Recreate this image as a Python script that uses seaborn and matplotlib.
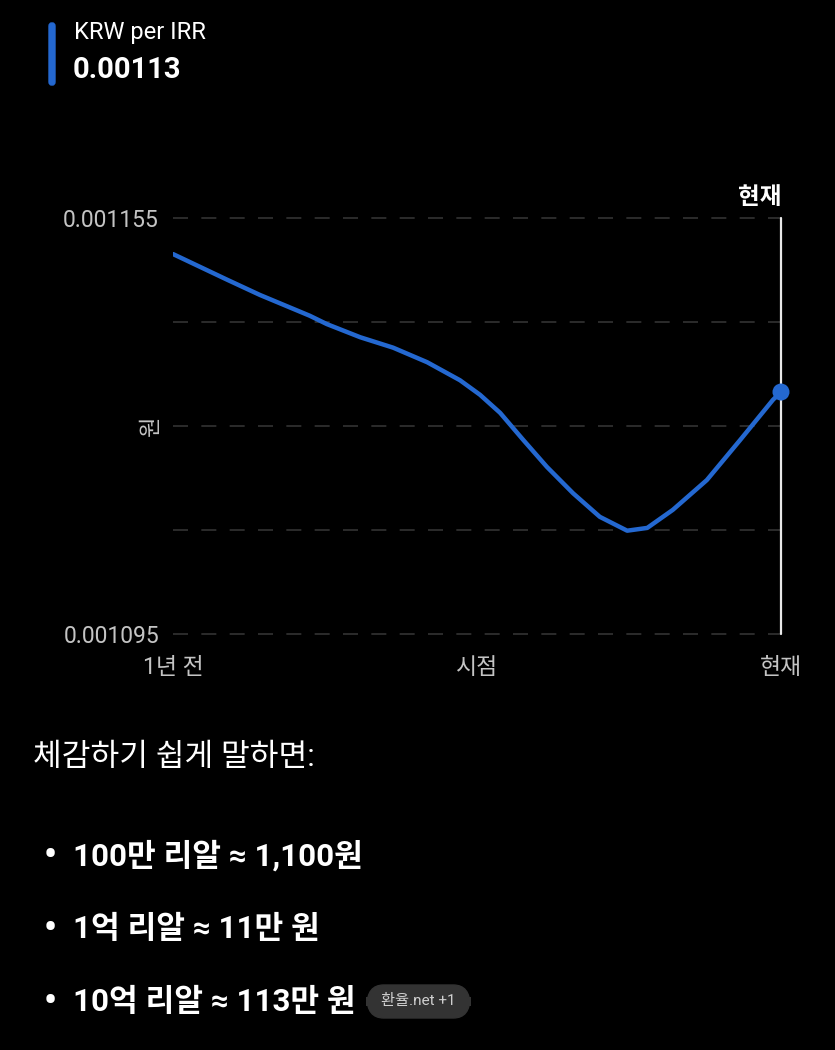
import numpy as np
import pandas as pd
import seaborn as sns
import matplotlib.pyplot as plt
from matplotlib.patches import FancyBboxPatch

# data (t: 0 = 1 year ago, 1 = now)
t_pos = [0.0, 0.089, 0.143, 0.225, 0.253, 0.308, 0.362, 0.418, 0.472, 0.505, 0.538,
         0.576, 0.615, 0.658, 0.702, 0.747, 0.780, 0.822, 0.878, 0.933, 0.987, 1.0]
krw_per_irr = [0.0011498, 0.0011461, 0.0011439, 0.0011409, 0.0011397, 0.0011378, 0.0011363,
               0.0011342, 0.0011316, 0.0011295, 0.0011269, 0.0011230, 0.0011191, 0.0011153,
               0.0011119, 0.0011099, 0.0011103, 0.0011129, 0.0011172, 0.0011230, 0.0011288,
               0.0011299]
x_ticks = [0.0, 0.5, 1.0]
x_labels = ['1년 전', '시점', '현재']
y_grid = [0.001095, 0.00111, 0.001125, 0.00114, 0.001155]
y_labels = ['0.001095', '', '', '', '0.001155']
bullets = ['100만 리알 ≈ 1,100원', '1억 리알 ≈ 11만 원', '10억 리알 ≈ 113만 원']

BLUE = '#2468d0'
GREY = '#c4c4c4'
sns.set_theme(style='dark', rc={'axes.facecolor': 'black', 'figure.facecolor': 'black'})
plt.rcParams['font.family'] = ['Roboto', 'Noto Sans CJK KR', 'DejaVu Sans']

df = pd.DataFrame({'t': t_pos, 'rate': krw_per_irr})

fig = plt.figure(figsize=(8.35, 10.5), dpi=100)
W, H = 835, 1050
# plot area: px 173..781 horizontally, 218..634 vertically
ax = fig.add_axes([173 / W, 1 - 634 / H, (781 - 173) / W, (634 - 218) / H])
ax.set_facecolor('black')

sns.lineplot(data=df, x='t', y='rate', ax=ax, color=BLUE, linewidth=3.2)
ax.scatter([t_pos[-1]], [krw_per_irr[-1]], s=150, color=BLUE, zorder=6,
           edgecolor='none', clip_on=False)

ax.set_xlim(0.0, 1.0)
ax.set_ylim(y_grid[0], y_grid[-1])
for yv in y_grid:
    ax.axhline(yv, color='#333333', lw=1.2, ls=(0, (9, 8)), zorder=0, clip_on=False)
ax.axvline(1.0, color='#e8e8e8', lw=1.6, zorder=4, clip_on=False)

ax.set_xticks(x_ticks)
ax.set_xticklabels(x_labels, color=GREY, fontsize=16.5)
ax.set_yticks(y_grid)
ax.set_yticklabels(y_labels, color=GREY, fontsize=16.5)
ax.tick_params(length=0)
ax.tick_params(axis='y', pad=10)
ax.tick_params(axis='x', pad=16)
ax.set_xlabel('')
ax.set_ylabel('원', color=GREY, fontsize=16)
ax.yaxis.set_label_coords(-0.018, 0.5)
ax.grid(False)
for s in ax.spines.values():
    s.set_visible(False)

fig.text(760 / W, 1 - 197 / H, '현재', color='white', fontsize=17, fontweight='bold',
         ha='center', va='center')

# header
fig.patches.append(FancyBboxPatch((49 / W, 1 - 85 / H), 6 / W, 62 / H,
                                  boxstyle='round,pad=0,rounding_size=0.003',
                                  transform=fig.transFigure, color=BLUE))
fig.text(74 / W, 1 - 33 / H, 'KRW per IRR', color='white', fontsize=17, va='center')
fig.text(73 / W, 1 - 70 / H, '0.00113', color='white', fontsize=21, fontweight='bold', va='center')

# text below
fig.text(33 / W, 1 - 757 / H, '체감하기 쉽게 말하면:', color='white', fontsize=22.5, va='center')
for i, b in enumerate(bullets):
    y = 1 - (856 + 73 * i) / H
    fig.text(44 / W, y, '•', color='white', fontsize=26, fontweight='bold', va='center')
    fig.text(73 / W, y, b, color='white', fontsize=22.5, fontweight='bold', va='center')

fig.patches.append(FancyBboxPatch((367 / W, 1 - 1018 / H), 103 / W, 33 / H,
                                  boxstyle='round,pad=0,rounding_size=0.02',
                                  transform=fig.transFigure, color='#333333'))
fig.text(418 / W, 1 - 1001 / H, '환율.net +1', color='#cfcfcf', fontsize=11,
         ha='center', va='center')

fig.savefig('out.png', dpi=100, facecolor='black')
